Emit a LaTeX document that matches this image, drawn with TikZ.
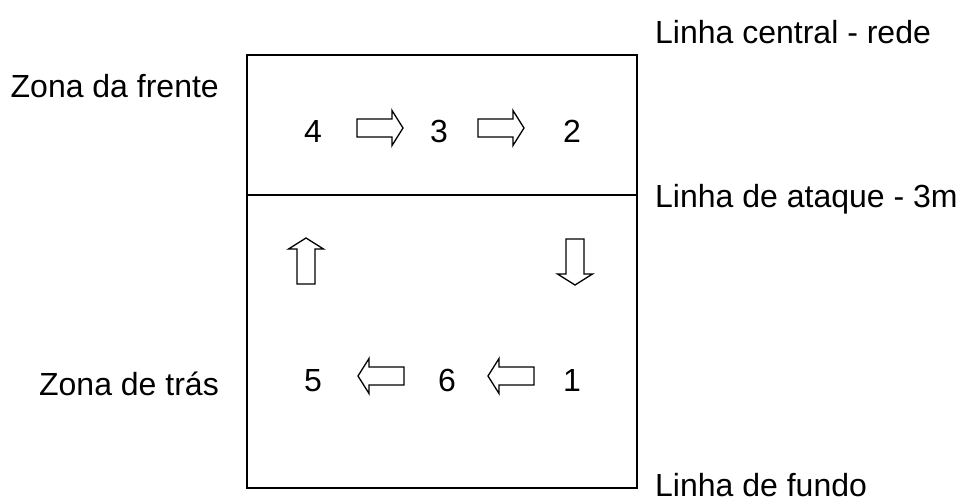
\documentclass[tikz,border=0pt]{standalone}
\usepackage{fontspec}
\setmainfont{Liberation Sans}
\begin{document}
\begin{tikzpicture}[x=1pt,y=-1pt,
  courtline/.style={draw=black,line width=2.5pt},
  arrowline/.style={draw=black,fill=white,line width=1.3pt,line join=miter},
  lbl/.style={font=\fontsize{32}{36}\selectfont,inner sep=0pt},
  num/.style={font=\fontsize{32}{36}\selectfont,inner sep=0pt,anchor=base},
  blockarrow/.pic={\draw[arrowline] (0,-9) -- (35,-9) -- (35,-17.5) -- (46,0) -- (35,17.5) -- (35,9) -- (0,9) -- cycle;}]
\useasboundingbox (0,0) rectangle (962,501);
% court
\coordinate (tl) at (247,55);
\coordinate (br) at (637,488);
\coordinate (ml) at (247,195);
\coordinate (mr) at (637,195);
\draw[courtline] (tl) rectangle (br);
\draw[courtline] (ml) -- (mr);
% labels
\node[lbl,anchor=base west] (central) at (655,43) {Linha central - rede};
\node[lbl,anchor=base east] (frente) at (219,97) {Zona da frente};
\node[lbl,anchor=base west] (ataque) at (655,207) {Linha de ataque - 3m};
\node[lbl,anchor=base east] (tras) at (219,395) {Zona de trás};
\node[lbl,anchor=base west] (fundo) at (655,496) {Linha de fundo};
% positions
\node[num] (p4) at (313,142) {4};
\node[num] (p3) at (439,142) {3};
\node[num] (p2) at (572,142) {2};
\node[num] (p5) at (313,391) {5};
\node[num] (p6) at (447,391) {6};
\node[num] (p1) at (572,391) {1};
% rotation arrows
\pic at (357,128) {blockarrow};
\pic at (478,128) {blockarrow};
\pic[rotate=-90] at (575,239) {blockarrow};
\pic[rotate=180] at (534,376) {blockarrow};
\pic[rotate=180] at (404,376) {blockarrow};
\pic[rotate=90] at (306,284) {blockarrow};
\end{tikzpicture}
\end{document}
